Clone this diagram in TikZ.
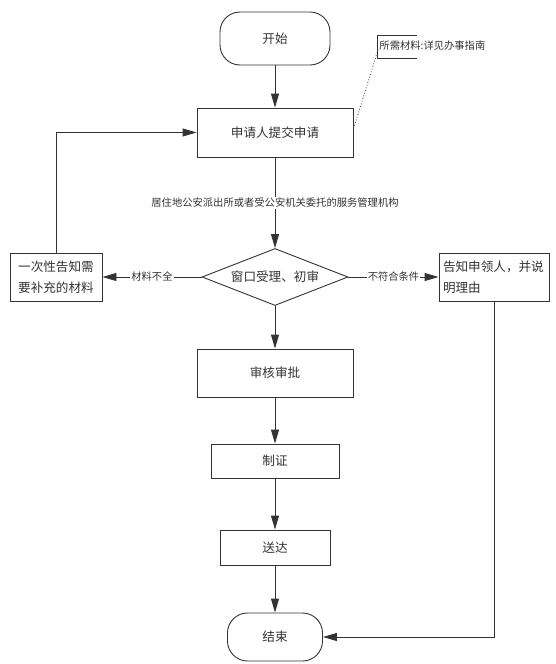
\documentclass[tikz,border=0pt]{standalone}
\usepackage{fontspec}
\newfontfamily\cjk{Noto Sans CJK SC}
\usetikzlibrary{shapes.geometric,arrows.meta}

\begin{document}
\begin{tikzpicture}[x=1pt, y=-1pt, line width=0.9pt, color=black!80,
  every node/.style={font=\cjk\fontsize{12.6}{21}\selectfont},
  proc/.style={draw, inner sep=0pt, align=center},
  term/.style={draw, rounded corners=20pt, inner sep=0pt},
  dec/.style={draw, diamond, aspect=2.6, inner sep=0pt, minimum width=146pt, minimum height=57pt},
  lbl/.style={fill=white, inner sep=1pt, font=\cjk\fontsize{10.3}{12}\selectfont},
  arr/.style={-{Triangle[length=14pt, width=8pt]}}]
  \useasboundingbox (0,0) rectangle (555,664);

  % Steps
  \node[term, minimum width=110pt, minimum height=53pt] (start) at (275,38.5) {开始};
  \node[proc, minimum width=156pt, minimum height=49pt] (apply) at (275,132.5) {申请人提交申请};
  \node[dec] (check) at (275,277) {窗口受理、初审};
  \node[proc, minimum width=92pt, minimum height=48pt] (fix) at (56,277) {一次性告知需\\要补充的材料};
  \node[proc, minimum width=110pt, minimum height=48pt, text width=102pt, align=left] (refuse) at (494,277) {告知申领人，并说\\明理由};
  \node[proc, minimum width=156pt, minimum height=48pt] (review) at (275,373) {审核审批};
  \node[proc, minimum width=128pt, minimum height=34pt] (make) at (275,461) {制证};
  \node[proc, minimum width=110pt, minimum height=35pt] (deliver) at (275,547.5) {送达};
  \node[term, minimum width=95pt, minimum height=48pt] (finish) at (275,637) {结束};

  % Note
  \node[lbl, anchor=west] (note) at (378,46) {所需材料:详见办事指南};
  \draw (417,35) -- (377,35) -- (377,58) -- (417,58);
  \draw[dotted, line width=0.8pt] ([yshift=-4pt]note.west) -- ([yshift=4pt]apply.east);

  % Straight
  \draw[arr] (start) edge (apply);
  \draw[arr] (apply) edge node[lbl] {居住地公安派出所或者受公安机关委托的服务管理机构} (check);
  \draw[arr] (check) edge (review);
  \draw[arr] (review) edge (make);
  \draw[arr] (make) edge (deliver);
  \draw[arr] (deliver) edge (finish);

  % Branches
  \draw[arr] (check) edge node[lbl] {材料不全} (fix);
  \draw[arr] (check) edge node[lbl] {不符合条件} (refuse);
  \draw[arr] (fix) |- (apply);
  \draw[arr] (refuse) |- (finish);
\end{tikzpicture}
\end{document}
